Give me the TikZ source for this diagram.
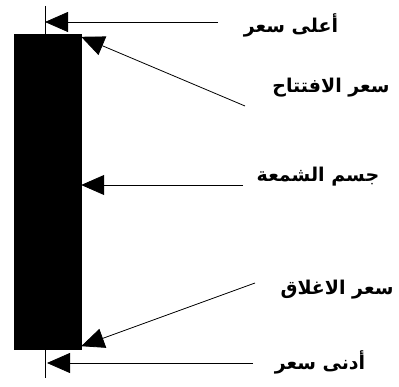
\documentclass[tikz,border=0pt]{standalone}
\usepackage{fontspec}
\TeXXeTstate=1
\newfontfamily\arabicfont[Script=Arabic]{DejaVu Sans}
\usetikzlibrary{arrows.meta,positioning}
\tikzset{
  tag/.style={font=\arabicfont\bfseries\fontsize{19}{22}\selectfont,inner sep=0pt},
  pointer/.style={-{Triangle[length=23pt,width=20pt]},line width=0.8pt,draw=black},
  candlebody/.style={draw=black,fill=black,inner sep=0pt,minimum width=67pt,minimum height=315pt}
}
\begin{document}
\begin{tikzpicture}[x=1pt,y=-1pt]
\useasboundingbox (0,0) rectangle (399,387);
% wick and body
\coordinate (wicktop) at (45,6);
\coordinate (wickbot) at (45,378);
\draw[line width=1pt] (wicktop) -- (wickbot);
\node[candlebody] (candle) at (47.5,191.5) {};
% labels
\node[tag] (high) at (291,25) {\beginR أعلى سعر\endR};
\node[tag] (open) at (331,88) {\beginR سعر الافتتاح\endR};
\node[tag] (bodytag) at (318,177) {\beginR جسم الشمعة\endR};
\node[tag] (close) at (337,290) {\beginR سعر الاغلاق\endR};
\node[tag] (low) at (320,362) {\beginR أدنى سعر\endR};
% arrow ends
\coordinate (highstart) at (218,22);
\coordinate (opentail) at (245,106);
\coordinate (bodystart) at (243,185);
\coordinate (closetail) at (255,283);
\coordinate (lowstart) at (253,363);
\draw[pointer] (highstart) -- (wicktop |- highstart);
\draw[pointer] (opentail) -- ([yshift=-3pt]candle.north east);
\draw[pointer] (bodystart) -- (candle.east |- bodystart);
\draw[pointer] (closetail) -- ([yshift=3pt]candle.south east);
\draw[pointer] (lowstart) -- ([xshift=2pt]wickbot |- lowstart);
\end{tikzpicture}
\end{document}
